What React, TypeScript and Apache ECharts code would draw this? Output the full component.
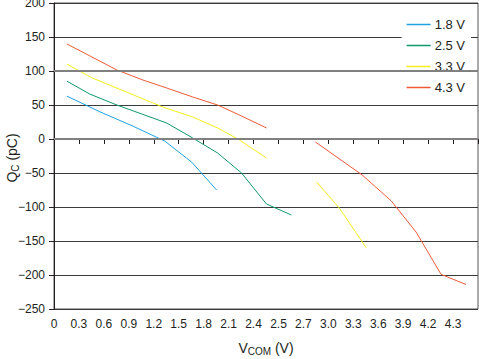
import React, { useEffect, useRef } from "react";
import * as echarts from "echarts";

// x tick labels (one per evenly spaced tick)
const xTickLabels = ["0", "0.3", "0.6", "0.9", "1.2", "1.5", "1.8", "2.1", "2.4", "2.5", "2.7", "3.0", "3.3", "3.6", "3.9", "4.2", "4.3"];

// series data: [tick position, Qc in pC]
const s18: number[][] = [[0.52, 63], [1.84, 40], [3.16, 19], [4.44, -3], [5.52, -34], [6.52, -75]];
const s25: number[][] = [[0.52, 85], [1.44, 66], [2.52, 50], [4.52, 23.5], [5.56, 1.5], [6.56, -20.6], [7.52, -50], [8.52, -95.6], [9.52, -111.8]];
const s33a: number[][] = [[0.52, 110], [1.52, 90], [4.36, 47], [5.56, 32.4], [6.56, 16.2], [7.44, -1.5], [8.52, -28]];
const s33b: number[][] = [[10.52, -63], [11.44, -101.5], [12.52, -160]];
const s43a: number[][] = [[0.52, 139.7], [1.52, 120.6], [2.52, 101.5], [3.56, 86.8], [4.52, 75], [5.56, 61.8], [6.56, 50], [7.52, 33.8], [8.52, 16.2]];
const s43b: number[][] = [[10.48, -4.4], [12.36, -53], [13.52, -91], [14.52, -137], [15.52, -199], [16.52, -214]];

const names = ["1.8 V", "2.5 V", "3.3 V", "4.3 V"];
const colors = ["#1fa2e2", "#12996a", "#f4ef1c", "#ee5a38"];

export default function App() {
  const ref = useRef<HTMLDivElement>(null);
  useEffect(() => {
    if (!ref.current) return;
    const chart = echarts.init(ref.current, null, { renderer: "svg" });
    const font = "Liberation Sans";
    const mk = (name: string, data: number[][], color: string, extra: any = {}) => ({
      type: "line",
      name,
      data,
      showSymbol: false,
      symbol: "none",
      lineStyle: { color, width: 1 },
      itemStyle: { color },
      ...extra,
    });
    chart.setOption({
      animation: false,
      backgroundColor: "#ffffff",
      grid: {
        left: 54, right: 1, top: 3, bottom: 50,
        containLabel: false, outerBoundsMode: "none",
        show: true, borderColor: "#555", borderWidth: 1,
      },
      graphic: [
        {
          type: "text",
          x: 12,
          y: 158,
          rotation: Math.PI / 2,
          style: {
            text: "Q{sub|C} (pC)",
            fontFamily: font,
            fontSize: 14,
            fill: "#231f20",
            align: "center",
            verticalAlign: "middle",
            rich: { sub: { fontFamily: font, fontSize: 10, fill: "#231f20", verticalAlign: "bottom", padding: [6, 0, 0, 0] } },
          },
        },
      ],
      legend: {
        data: names.map((n) => ({ name: n, icon: "rect" })),
        orient: "vertical",
        right: 8,
        top: 12,
        padding: [6, 6, 6, 5],
        itemGap: 8,
        itemWidth: 24,
        itemHeight: 1.5,
        backgroundColor: "#ffffff",
        textStyle: { fontFamily: font, fontSize: 13, color: "#231f20", padding: [0, 0, 0, -1] },
      },
      xAxis: {
        type: "value",
        min: 0,
        max: 17,
        interval: 1,
        name: "V{sub|COM} (V)",
        nameLocation: "middle",
        nameGap: 31,
        nameTextStyle: {
          fontFamily: font,
          fontSize: 14,
          color: "#231f20",
          rich: { sub: { fontFamily: font, fontSize: 10, color: "#231f20", verticalAlign: "bottom", padding: [6, 0, 0, 0] } },
        },
        axisLine: { show: true, lineStyle: { color: "#231f20", width: 1 } },
        axisTick: { show: true, length: 5, lineStyle: { color: "#231f20" } },
        axisLabel: {
          fontFamily: font,
          fontSize: 12,
          color: "#231f20",
          margin: 9,
          formatter: (v: number) => xTickLabels[Math.round(v)] ?? "",
        },
        splitLine: { show: false },
      },
      yAxis: {
        type: "value",
        min: -250,
        max: 200,
        interval: 50,
        axisLine: { show: true, lineStyle: { color: "#231f20", width: 1 } },
        axisTick: { show: true, length: 5, lineStyle: { color: "#231f20" } },
        axisLabel: {
          fontFamily: font,
          fontSize: 12,
          color: "#231f20",
          margin: 9,
          formatter: (v: number) => String(v).replace("-", "\u2212"),
        },
        splitLine: { show: true, lineStyle: { color: "#3a3a3a", width: 1 } },
      },
      series: [
        mk(names[0], s18, colors[0], {
          markLine: {
            silent: true,
            symbol: "none",
            label: { show: false },
            lineStyle: { color: "#808080", width: 2, type: "solid" },
            data: [{ yAxis: 0 }, { yAxis: 100 }],
          },
        }),
        mk(names[1], s25, colors[1]),
        mk(names[2], s33a, colors[2]),
        mk(names[2], s33b, colors[2]),
        mk(names[3], s43a, colors[3]),
        mk(names[3], s43b, colors[3]),
      ],
    });
    return () => chart.dispose();
  }, []);
  return <div ref={ref} style={{ width: 479, height: 359, position: "absolute", left: 0, top: 0 }} />;
}
